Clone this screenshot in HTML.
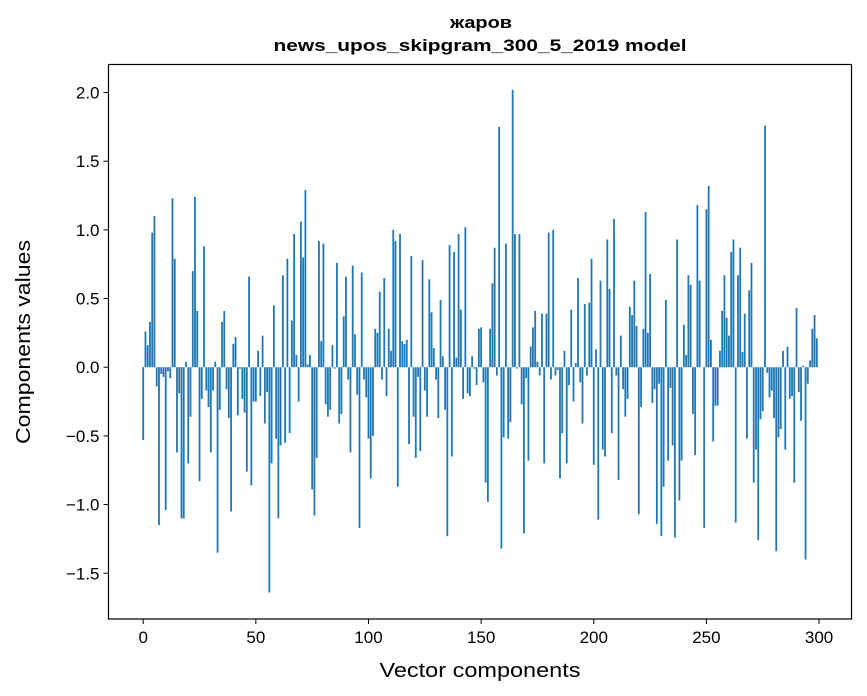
<!DOCTYPE html>
<html><head><meta charset="utf-8"><style>
html,body{margin:0;padding:0;background:#fff;}
svg{display:block;font-family:"Liberation Sans",sans-serif;}
</style></head><body>
<svg id="chart" width="867" height="696" viewBox="0 0 867 696" xmlns="http://www.w3.org/2000/svg">
<rect width="867" height="696" fill="#fff"/>
<text x="481" y="28" text-anchor="middle" font-size="17" font-weight="bold" textLength="62" lengthAdjust="spacingAndGlyphs">жаров</text>
<text x="480" y="51" text-anchor="middle" font-size="17" font-weight="bold" textLength="413" lengthAdjust="spacingAndGlyphs">news_upos_skipgram_300_5_2019 model</text>
<g id="bars"></g>
<g id="axes"></g>
<rect x="108.5" y="64.5" width="743" height="554.5" fill="none" stroke="#000" stroke-width="1.2"/>
<text x="480" y="677" text-anchor="middle" font-size="20" textLength="201" lengthAdjust="spacingAndGlyphs">Vector components</text>
<text transform="translate(30,342) rotate(-90)" text-anchor="middle" font-size="20" textLength="204" lengthAdjust="spacingAndGlyphs">Components values</text>
</svg>
<script>
const values = [-0.53,0.26,0.16,0.33,0.98,1.1,-0.14,-1.15,-0.05,-0.07,-1.04,-0.03,-0.08,1.23,0.79,-0.62,-0.19,-1.1,-1.1,0.04,
-0.7,-0.36,0.7,1.24,0.41,-0.83,-0.23,0.88,-0.17,-0.29,-0.62,-0.17,0.04,-1.35,-0.31,0.33,0.41,-0.16,-0.37,-1.05,
0.17,0.22,-0.35,-0.01,-0.23,-0.33,-0.76,0.66,-0.86,-0.25,-0.25,0.12,-0.21,0.23,-0.41,-0.18,-1.64,-0.7,0.45,-0.52,
-1.1,-0.57,0.67,-0.55,0.79,-0.48,0.34,0.97,0.09,-0.25,1.06,0.8,1.29,0.02,0.09,-0.89,-1.08,-0.66,0.92,0.19,
0.9,-0.27,-0.36,-0.31,0.16,-0.01,0.76,-0.41,-0.34,0.37,0.66,-0.09,-0.62,0.74,0.24,-0.2,-1.17,0.69,-0.09,-0.22,
-0.52,-0.81,-0.5,0.28,0.25,0.55,-0.09,0.65,-0.21,0.28,0.12,1.0,0.92,-0.87,0.97,0.19,0.17,0.2,-0.56,0.81,
-0.36,-0.66,-0.07,-0.61,0.78,-0.17,-0.36,0.64,0.4,0.14,-0.09,-0.37,0.49,0.08,-0.31,-1.23,0.89,-0.65,0.84,0.07,
0.97,0.42,-0.23,1.02,-0.19,-0.21,0.08,-0.01,-0.13,0.28,0.29,-0.11,-0.84,-0.98,0.28,0.61,0.87,-0.06,1.75,-1.32,
-0.51,0.9,-0.52,-0.4,2.02,0.97,-0.01,0.97,-0.27,-1.21,-0.08,-0.68,0.15,0.29,0.41,0.04,-0.06,0.39,-0.7,0.39,
0.98,-0.09,1.0,-0.06,-0.02,-0.81,-0.48,0.12,-0.7,-0.13,0.42,-0.25,0.03,0.65,-0.11,-0.41,0.46,-0.06,0.47,0.79,
-0.71,0.13,-1.11,0.63,-0.6,-0.65,0.93,0.57,-0.48,1.08,-0.06,-0.82,0.23,-0.16,-0.36,-0.23,0.44,0.38,0.63,0.3,
-1.07,-0.29,0.28,1.13,0.25,0.68,-0.26,-0.16,-1.14,-0.12,-1.23,-0.87,0.49,-0.68,-0.15,-0.57,-1.24,0.93,-0.97,-0.68,
0.31,0.09,0.67,0.6,-0.34,-0.64,1.18,0.63,0.0,-1.17,1.15,1.32,0.2,-0.54,-0.28,-0.28,0.12,0.41,0.67,0.36,
0.23,0.84,0.93,-1.13,0.67,0.87,0.11,0.39,-0.52,0.56,0.76,-0.84,-0.6,-1.26,-0.38,-0.32,1.76,-0.04,-0.22,-0.17,
-0.37,-1.34,-0.51,-0.45,0.12,-0.6,0.15,-0.23,-0.21,-0.84,0.43,-0.18,-0.39,0.01,-1.4,-0.12,0.05,0.28,0.38,0.21];
const xTicks = [0,50,100,150,200,250,300];
const yTicks = [-1.5,-1.0,-0.5,0.0,0.5,1.0,1.5,2.0];
const NS = "http://www.w3.org/2000/svg";
const X0 = 108.5, X1 = 851.5, Y0 = 64.5, Y1 = 619;
const xMin = -15.4, xMax = 314.4, yMin = -1.833, yMax = 2.204;
function xs(v){ return X0 + (v - xMin) / (xMax - xMin) * (X1 - X0); }
function ys(v){ return Y1 - (v - yMin) / (yMax - yMin) * (Y1 - Y0); }
const bars = document.getElementById('bars');
values.forEach((v, i) => {
  const r = document.createElementNS(NS, 'rect');
  
  
  const xa = xs(i - 0.4), xb = xs(i + 0.4);
  const ya = ys(Math.max(v, 0)), yb = ys(Math.min(v, 0));
  r.setAttribute('x', xa);
  r.setAttribute('width', xb - xa);
  r.setAttribute('y', ya);
  r.setAttribute('height', Math.max(yb - ya, 0.01));
  r.setAttribute('fill', '#1f77b4');
  bars.appendChild(r);
});
const axes = document.getElementById('axes');
xTicks.forEach(t => {
  const x = xs(t);
  const l = document.createElementNS(NS, 'line');
  
  
  l.setAttribute('x1', x); l.setAttribute('x2', x);
  l.setAttribute('y1', Y1); l.setAttribute('y2', Y1 + 5);
  l.setAttribute('stroke', '#000'); l.setAttribute('stroke-width', '1');
  axes.appendChild(l);
  const tx = document.createElementNS(NS, 'text');
  
  
  tx.setAttribute('x', x); tx.setAttribute('y', Y1 + 24);
  tx.setAttribute('text-anchor', 'middle'); tx.setAttribute('font-size', '17');
  tx.textContent = String(t);
  axes.appendChild(tx);
});
yTicks.forEach(t => {
  const y = ys(t);
  const l = document.createElementNS(NS, 'line');
  
  
  l.setAttribute('x1', X0 - 5); l.setAttribute('x2', X0);
  l.setAttribute('y1', y); l.setAttribute('y2', y);
  l.setAttribute('stroke', '#000'); l.setAttribute('stroke-width', '1');
  axes.appendChild(l);
  const tx = document.createElementNS(NS, 'text');
  
  
  tx.setAttribute('x', X0 - 9); tx.setAttribute('y', y + 6);
  tx.setAttribute('text-anchor', 'end'); tx.setAttribute('font-size', '17');
  tx.textContent = (t < 0 ? '\u2212' : '') + Math.abs(t).toFixed(1);
  axes.appendChild(tx);
});
</script>
</body></html>
